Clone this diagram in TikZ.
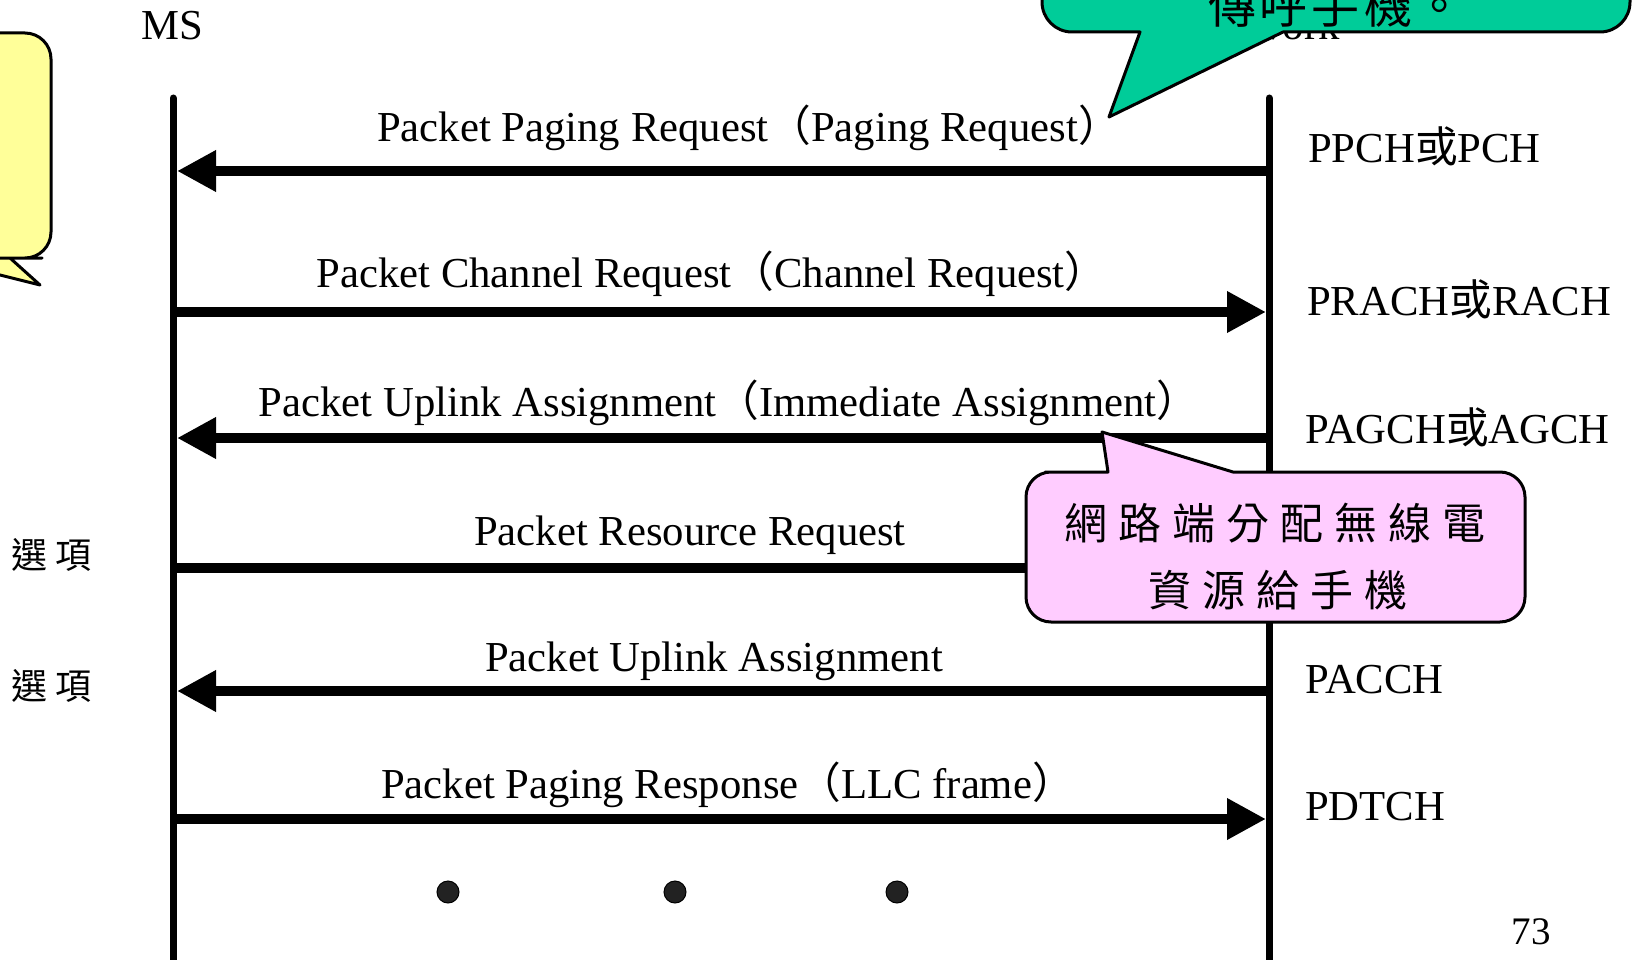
\documentclass[tikz,border=0pt]{standalone}
\usepackage{fontspec}
\setmainfont{Liberation Serif}
\newfontfamily\cjk{Noto Sans CJK TC}
\usetikzlibrary{arrows.meta}
\definecolor{callyellow}{HTML}{FFFF99}
\definecolor{callgreen}{HTML}{00CC99}
\definecolor{callpink}{HTML}{FFCCFF}
\definecolor{dotgray}{HTML}{222222}
\begin{document}
\begin{tikzpicture}[x=1pt,y=-1pt,
  lifeline/.style={line width=7pt, line cap=round},
  msg/.style={line width=10pt, -{Triangle[length=39pt,width=39pt]}},
  lbl/.style={inner sep=0pt, anchor=base, font=\fontsize{42.7}{50}\selectfont},
  chan/.style={inner sep=0pt, anchor=base west, font=\fontsize{42.7}{50}\selectfont},
  opt/.style={inner sep=0pt, anchor=center, font=\fontsize{36}{40}\selectfont\cjk},
  callout/.style={draw=black, line width=3pt, line join=round},
  ctext/.style={inner sep=0pt, anchor=center, font=\fontsize{43}{50}\selectfont\cjk},
  dotmark/.style={circle, fill=dotgray, draw=black, line width=1pt, minimum size=22pt, inner sep=0pt}
]
\useasboundingbox (0,0) rectangle (1633,960);
\clip (0,0) rectangle (1633,960);

% lifeline headers
\node[lbl] (ms) at (172,40) {MS};
\node[lbl, anchor=base east] (nw) at (1340,40) {Network};

% lifelines
\coordinate (msT) at (173,98);
\coordinate (msB) at (173,990);
\coordinate (nwT) at (1269,98);
\coordinate (nwB) at (1269,990);
\draw[lifeline] (msT) -- (msB);
\draw[lifeline] (nwT) -- (nwB);

% message end points
\coordinate (l1) at (177,171);  \coordinate (r1) at (1269,171);
\coordinate (l2) at (173,312);  \coordinate (r2) at (1266,312);
\coordinate (l3) at (177,438);  \coordinate (r3) at (1269,438);
\coordinate (l4) at (173,568);  \coordinate (r4) at (1266,568);
\coordinate (l5) at (177,691);  \coordinate (r5) at (1269,691);
\coordinate (l6) at (173,819);  \coordinate (r6) at (1266,819);

\draw[msg] (r1) -- (l1);
\draw[msg] (l2) -- (r2);
\draw[msg] (r3) -- (l3);
\draw[msg] (l4) -- (r4);
\draw[msg] (r5) -- (l5);
\draw[msg] (l6) -- (r6);

% message labels
\node[lbl] (t1) at (749,142) {Packet Paging Request{\cjk （}Paging Request{\cjk ）}};
\node[lbl] (t2) at (712,287) {Packet Channel Request{\cjk （}Channel Request{\cjk ）}};
\node[lbl] (t3) at (729,416) {Packet Uplink Assignment{\cjk （}Immediate Assignment{\cjk ）}};
\node[lbl] (t4) at (690,545) {Packet Resource Request};
\node[lbl] (t5) at (714,671) {Packet Uplink Assignment};
\node[lbl] (t6) at (728,798) {Packet Paging Response{\cjk （}LLC frame{\cjk ）}};

% channel labels
\node[chan] (c1) at (1308,163) {PPCH{\cjk 或}PCH};
\node[chan] (c2) at (1307,315) {PRACH{\cjk 或}RACH};
\node[chan] (c3) at (1305,443) {PAGCH{\cjk 或}AGCH};
\node[chan] (c4) at (1305,693) {PACCH};
\node[chan] (c5) at (1305,820) {PDTCH};

% option labels
\node[opt] (o1) at (52,555) {選\kern8pt 項};
\node[opt] (o2) at (52,686) {選\kern8pt 項};

% dots
\node[dotmark] (d1) at (448,892) {};
\node[dotmark] (d2) at (675,892) {};
\node[dotmark] (d3) at (897,892) {};

% page number
\node[inner sep=0pt, anchor=base, font=\fontsize{39}{44}\selectfont] (pg) at (1531,944) {73};

% yellow callout (cut off at left)
\filldraw[callout, fill=callyellow]
  (-300,150) [rounded corners=26pt] -- (-300,33) -- (51,33) -- (51,258) -- (16,258)
  [sharp corners] -- (10,258) -- (40,285) -- (-68,258) -- (-90,258)
  [rounded corners=26pt] -- (-300,258) -- cycle;

% green callout (cut off at top)
\filldraw[callout, fill=callgreen]
  (1336,-200) [rounded corners=30pt] -- (1042,-200) -- (1042,32) -- (1110,32)
  [sharp corners] -- (1140,32) -- (1109,117) -- (1283,32) -- (1320,32)
  [rounded corners=30pt] -- (1630,32) -- (1630,-200) -- cycle;
\node[ctext, font=\fontsize{48}{52}\selectfont\cjk] (g1) at (1336,5) {傳\kern4pt 呼\kern4pt 手\kern4pt 機\kern4pt 。};

% pink callout
\filldraw[callout, fill=callpink]
  (1026,547) [rounded corners=25pt] -- (1026,472) -- (1070,472)
  [sharp corners] -- (1108,472) -- (1102,432) -- (1233,472) -- (1260,472)
  [rounded corners=25pt] -- (1525,472) -- (1525,622) -- (1026,622) -- cycle;
\node[ctext] (p1) at (1275,523) {網\kern11pt 路\kern11pt 端\kern11pt 分\kern11pt 配\kern11pt 無\kern11pt 線\kern11pt 電};
\node[ctext] (p2) at (1278,590) {資\kern11pt 源\kern11pt 給\kern11pt 手\kern11pt 機};
\end{tikzpicture}
\end{document}
